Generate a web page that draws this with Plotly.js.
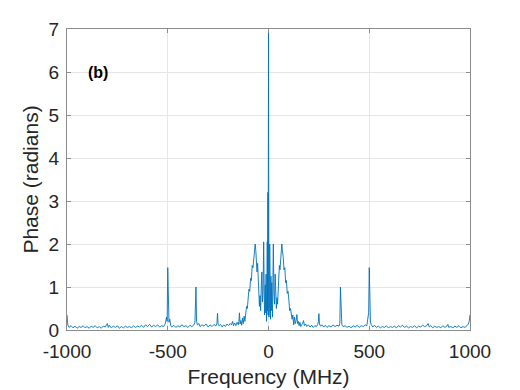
<!DOCTYPE html>
<html>
<head>
<meta charset="utf-8">
<script src="https://cdn.plot.ly/plotly-3.0.1.min.js"></script>
<style>html,body{margin:0;padding:0;background:#fff;}#chart{width:520px;height:390px;}</style>
</head>
<body>
<div id="chart"></div>
<script>
// Left noise floor segment (MHz, radians)
var leftFreq = [-1000,-996,-990,-980,-970,-960,-950,-940,-930,-920,-910,-900,-890,-880,-870,-860,-850,-840,-830,-820,-810,-800,-795,-790,-780,-770,-760,-750,-740,-730,-720,-710,-700,-690,-680,-670,-660,-650,-640,-630,-620,-610,-600,-590,-580,-570,-560,-550,-540,-530,-520,-512,-506,-503,-500,-497,-494,-490,-485,-480,-470,-460,-450,-440,-430,-420,-410,-400,-390,-380,-370,-365,-360,-357,-353,-345,-340,-330,-320,-310,-300,-290,-280,-270,-262,-256,-253,-250,-245,-238,-230,-222,-214,-206,-198,-190,-184,-178,-174,-168,-162];
var leftPhase = [0.35,0.12,0.06,0.10,0.05,0.09,0.04,0.08,0.06,0.10,0.05,0.08,0.04,0.09,0.06,0.10,0.05,0.08,0.04,0.09,0.07,0.15,0.06,0.11,0.05,0.09,0.06,0.10,0.04,0.08,0.05,0.09,0.06,0.08,0.05,0.10,0.06,0.09,0.07,0.11,0.06,0.12,0.08,0.13,0.07,0.11,0.08,0.12,0.07,0.10,0.08,0.15,0.30,0.20,1.45,0.40,0.18,0.25,0.10,0.07,0.11,0.06,0.10,0.07,0.12,0.08,0.10,0.06,0.11,0.08,0.12,0.18,1.00,0.20,0.12,0.15,0.08,0.12,0.09,0.14,0.07,0.12,0.08,0.13,0.09,0.15,0.39,0.12,0.10,0.13,0.07,0.12,0.08,0.14,0.10,0.15,0.12,0.20,0.10,0.16,0.10];

// Central lobe segment
var centerFreq = [-156,-150,-147,-144,-141,-137,-133,-129,-125,-121,-117,-113,-109,-105,-101,-97,-93,-89,-85,-81,-77,-73,-69,-66,-63,-60,-57,-54,-51,-48,-45,-42,-39,-36,-33,-30,-27,-24,-22,-20,-18,-16,-14,-12,-10,-8,-6,-5,-4,-3,-2,-1,0,1,2,3,4,5,6,8,10,12,14,16,18,20,22,24,27,30,33,36,39,42,45,48,51,54,57,60,63,66,69,73,77,81,85,89,93,97,101,105,109,113,117,121,125,129,133,137,141,144,148,152,156,160];
var centerPhase = [0.18,0.12,0.20,0.40,0.14,0.22,0.11,0.28,0.15,0.32,0.20,0.40,0.55,0.50,0.75,0.95,0.90,1.20,1.15,1.50,1.45,1.75,1.90,2.00,1.85,1.65,1.35,1.55,1.10,0.85,0.55,0.80,0.45,1.00,1.35,0.65,0.90,2.05,1.10,0.35,0.70,1.05,0.40,1.30,0.20,0.75,2.05,0.45,1.60,3.20,0.35,3.15,7.00,3.10,0.30,3.20,1.50,0.50,2.00,0.70,0.25,1.25,0.45,1.10,0.60,0.30,1.20,2.00,0.85,0.60,1.30,0.95,0.50,0.75,0.60,0.90,1.15,1.50,1.40,1.70,1.90,2.00,1.85,1.70,1.40,1.45,1.10,1.15,0.85,0.90,0.70,0.45,0.50,0.30,0.25,0.35,0.12,0.30,0.15,0.22,0.36,0.15,0.20,0.10,0.18,0.08];

// Right noise floor segment
var rightFreq = [166,170,174,178,184,190,198,206,214,222,230,238,244,248,250,253,258,266,274,282,290,300,310,320,330,340,350,354,357,360,364,370,380,390,400,410,420,430,440,450,460,470,480,488,494,497,500,503,506,510,518,526,535,545,555,565,575,585,595,605,615,625,635,645,655,665,675,685,695,705,715,725,735,745,755,765,775,785,792,798,805,815,825,835,845,855,865,875,885,890,895,905,915,925,935,945,955,965,975,985,992,996,1000];
var rightPhase = [0.12,0.16,0.22,0.10,0.14,0.08,0.12,0.07,0.11,0.06,0.10,0.08,0.13,0.20,0.38,0.14,0.09,0.12,0.07,0.11,0.06,0.10,0.07,0.12,0.08,0.11,0.09,0.16,1.00,0.20,0.12,0.08,0.10,0.06,0.09,0.05,0.10,0.07,0.11,0.06,0.10,0.08,0.12,0.10,0.25,0.40,1.45,0.30,0.18,0.12,0.07,0.11,0.06,0.09,0.05,0.08,0.06,0.10,0.05,0.08,0.06,0.09,0.05,0.10,0.07,0.11,0.06,0.09,0.05,0.08,0.06,0.10,0.05,0.09,0.07,0.11,0.08,0.10,0.15,0.07,0.10,0.05,0.09,0.06,0.08,0.05,0.10,0.06,0.09,0.13,0.06,0.08,0.05,0.09,0.06,0.10,0.05,0.08,0.06,0.10,0.14,0.20,0.35];

var xTicks = [-1000,-500,0,500,1000];
var yTicks = [0,1,2,3,4,5,6,7];

var freq = leftFreq.concat(centerFreq, rightFreq);
var phase = leftPhase.concat(centerPhase, rightPhase);

var font = 'Arial, "Liberation Sans", Helvetica, sans-serif';
var trace = {
  x: freq, y: phase, type: 'scatter', mode: 'lines',
  line: {color: '#0072BD', width: 0.9}, hoverinfo: 'skip'
};
var axCommon = {
  showline: true, linecolor: '#8c8c8c', linewidth: 1, mirror: 'ticks',
  ticks: 'inside', ticklen: 4, tickcolor: '#8c8c8c',
  showgrid: true, gridcolor: '#e6e6e6', gridwidth: 1, zeroline: false,
  tickfont: {family: font, size: 19, color: '#262626'}
};
var layout = {
  width: 520, height: 390,
  margin: {l: 67, r: 50, t: 29, b: 60},
  paper_bgcolor: '#fff', plot_bgcolor: '#fff',
  showlegend: false,
  xaxis: Object.assign({}, axCommon, {
    range: [-1000, 1000], tickmode: 'array', tickvals: xTicks,
    ticktext: xTicks.map(String), ticklabelstandoff: 4,
    title: {text: 'Frequency (MHz)', font: {family: font, size: 21, color: '#262626'}, standoff: 8}
  }),
  yaxis: Object.assign({}, axCommon, {
    range: [0, 7], tickmode: 'array', tickvals: yTicks, ticklabelstandoff: 3,
    title: {text: 'Phase (radians)', font: {family: font, size: 21, color: '#262626'}, standoff: 4}
  }),
  annotations: [{
    x: -905, y: 5.98, xref: 'x', yref: 'y', xanchor: 'left', yanchor: 'middle',
    text: '<b>(b)</b>', showarrow: false, font: {family: font, size: 16, color: '#000'}
  }]
};
Plotly.newPlot('chart', [trace], layout, {staticPlot: true, displayModeBar: false});
</script>
</body>
</html>
